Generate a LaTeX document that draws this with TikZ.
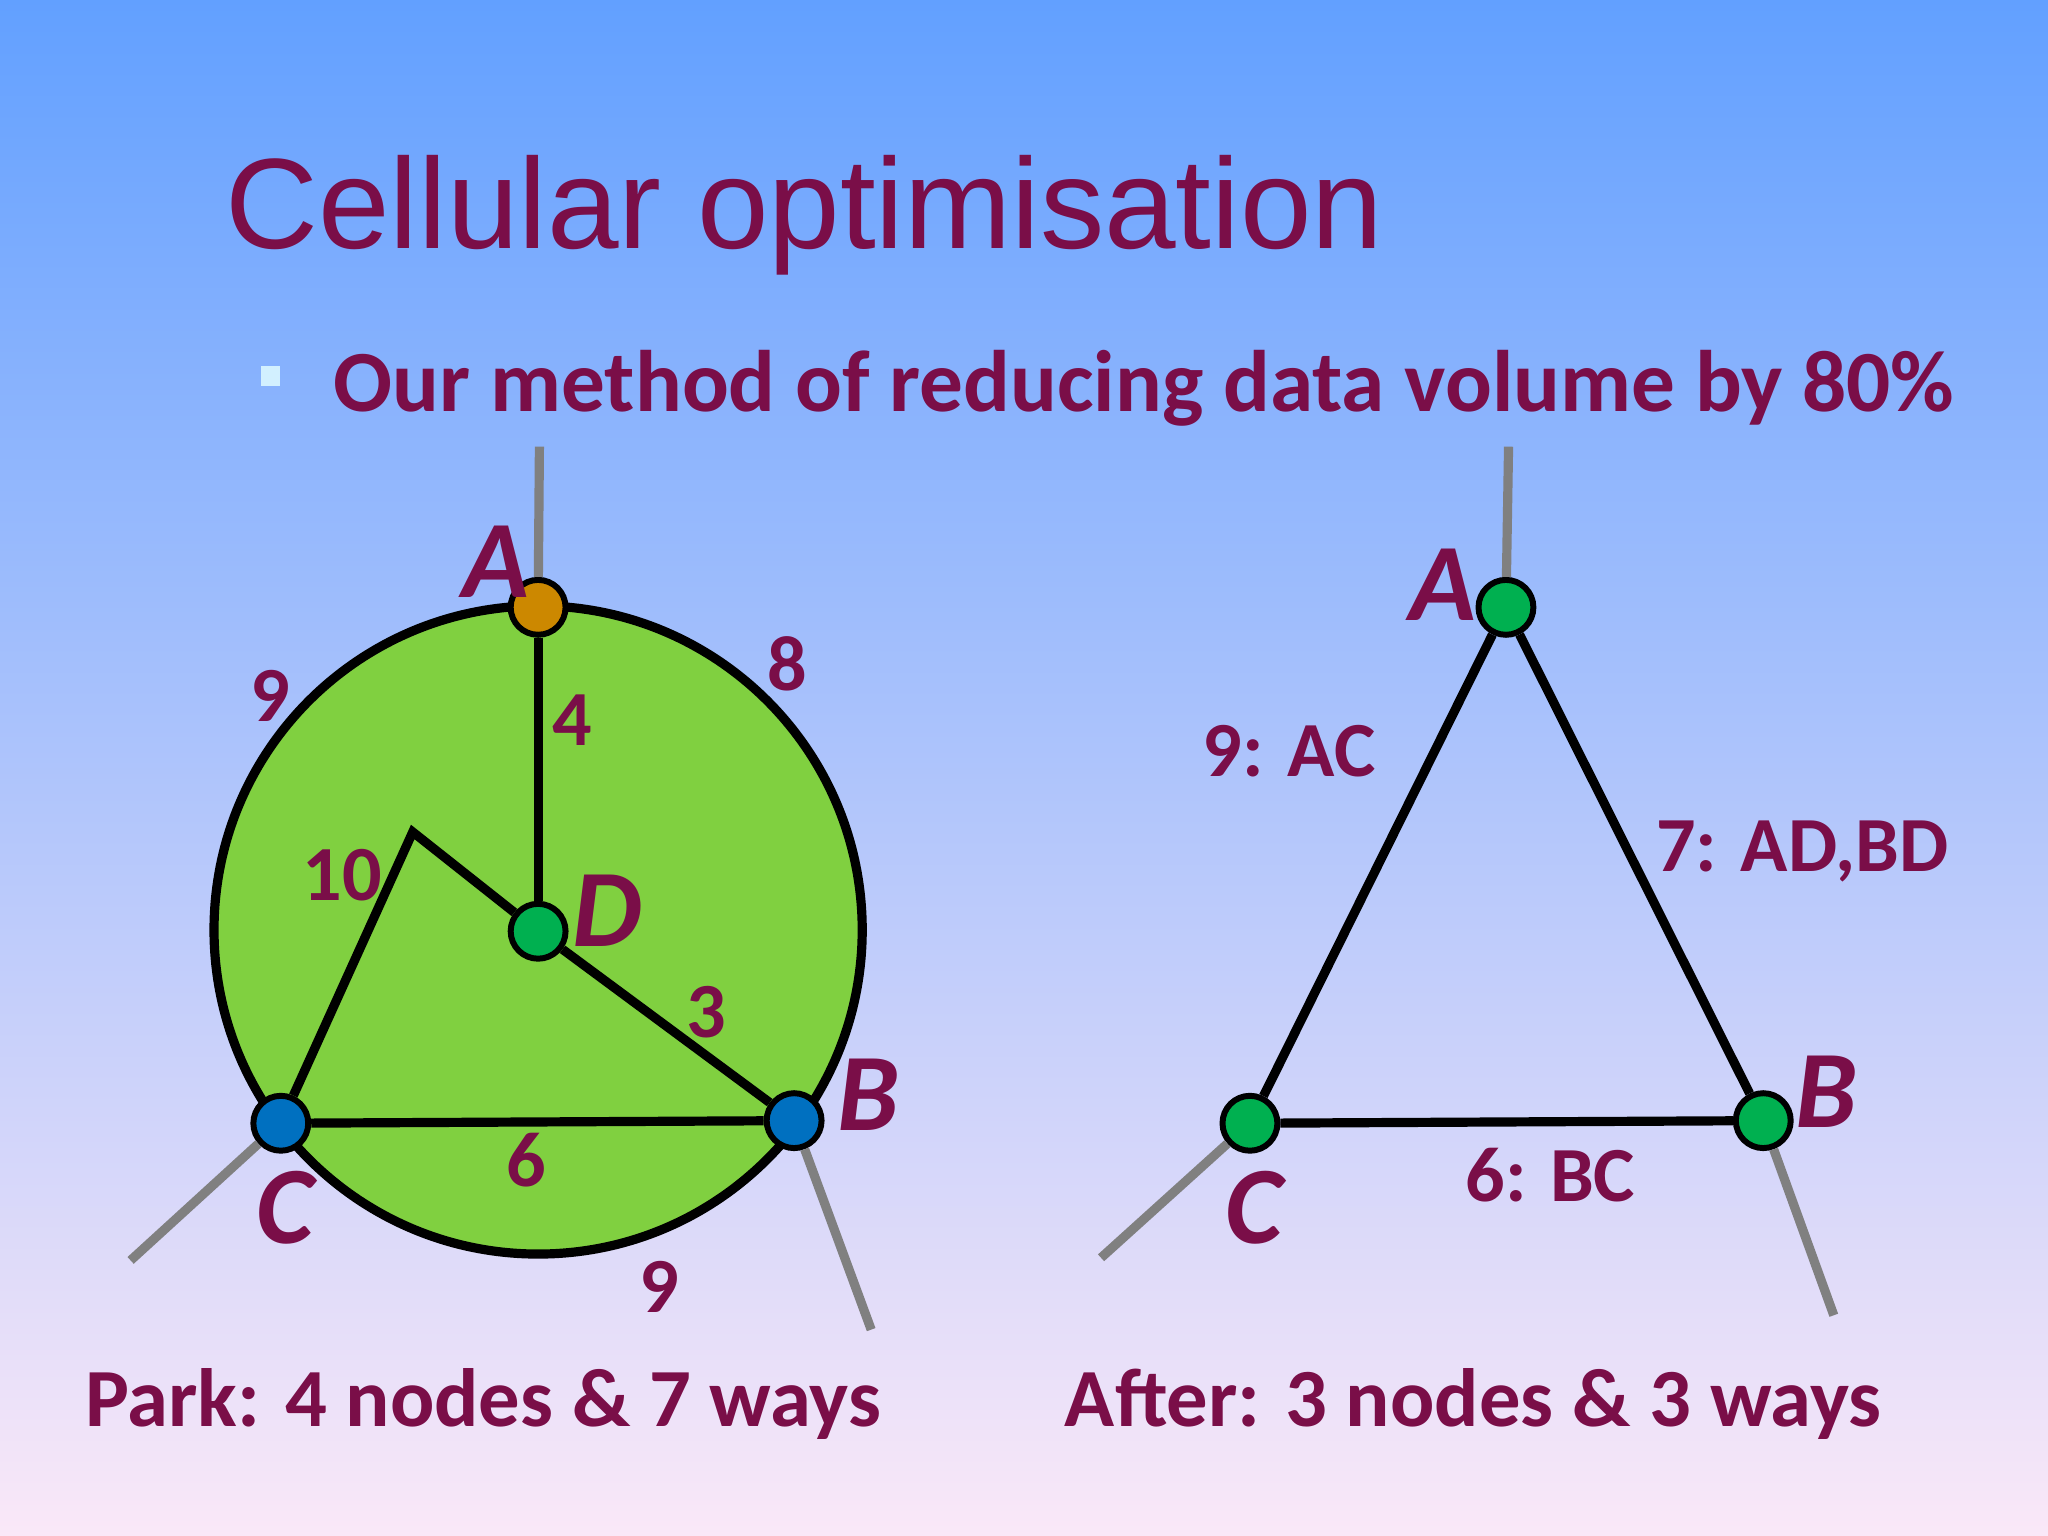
\documentclass[tikz,border=0pt]{standalone}
\usepackage{fontspec}
\setmainfont{Carlito}
\newfontfamily\titlefont{Liberation Sans}
\definecolor{mar}{HTML}{7A0E48}
\definecolor{parkg}{HTML}{80D040}
\definecolor{ng}{HTML}{00B050}
\definecolor{nb}{HTML}{0070C0}
\definecolor{no}{HTML}{CC8800}
\definecolor{gl}{HTML}{808080}
\begin{document}
\begin{tikzpicture}[x=0.01cm,y=-0.01cm,
  vert/.style={circle,draw=black,line width=1.3pt,minimum size=0.42cm,inner sep=0pt},
  edge/.style={line width=2pt,black},
  stub/.style={line width=2pt,gl},
  lab/.style={text=mar,font=\bfseries\itshape\fontsize{24}{24}\selectfont},
  num/.style={text=mar,font=\bfseries\fontsize{17}{17}\selectfont},
  captxt/.style={text=mar,font=\bfseries\fontsize{18}{18}\selectfont}]
\shade[top color={rgb,255:red,98;green,160;blue,255},middle color={rgb,255:red,176;green,196;blue,255},bottom color={rgb,255:red,250;green,232;blue,248}] (0,0) rectangle (1568,1176);
\useasboundingbox (0,0) rectangle (1568,1176);
\node[anchor=base west,text=mar,font=\titlefont\fontsize{28}{28}\selectfont,inner sep=0] (title) at (172,190) {Cellular optimisation};
\node[fill={rgb,255:red,210;green,240;blue,255},minimum size=0.15cm,inner sep=0] (bul) at (207,288) {};
\node[anchor=base west,text=mar,font=\bfseries\fontsize{19}{19}\selectfont,inner sep=0] (sub) at (255,315) {Our method of reducing data volume by 80\%};
% left
\coordinate (At) at (413,342); \coordinate (Ct) at (100,965); \coordinate (Bt) at (667,1018);
\coordinate (K) at (316,637);
\node[circle,draw=black,line width=2pt,fill=parkg,minimum size=4.96cm,inner sep=0] (park) at (412,712) {};
\node[vert,fill=no] (A) at (412,465) {};
\node[vert,fill=ng] (D) at (412,713) {};
\node[vert,fill=nb] (C) at (215,860) {};
\node[vert,fill=nb] (B) at (608,858) {};
\draw[stub] (A) -- (At); \draw[stub] (C) -- (Ct); \draw[stub] (B) -- (Bt);
\draw[edge] (A) -- (D); \draw[edge] (D) -- (K) -- (C); \draw[edge] (D) -- (B); \draw[edge] (C) -- (B);
\node[lab] (lA) at (380,430) {A}; \node[lab] (lD) at (465,697) {D};
\node[lab] (lB) at (665,838) {B}; \node[lab] (lC) at (218,925) {C};
\node[num] (n1) at (207,533) {9}; \node[num] (n2) at (603,508) {8};
\node[num] (n3) at (438,551) {4}; \node[num] (n4) at (262,670) {10};
\node[num] (n5) at (541,775) {3}; \node[num] (n6) at (403,888) {6};
\node[num] (n7) at (505,985) {9};
% right
\coordinate (At2) at (1155,342); \coordinate (Ct2) at (843,963); \coordinate (Bt2) at (1404,1007);
\node[vert,fill=ng] (A2) at (1153,465) {};
\node[vert,fill=ng] (C2) at (957,860) {};
\node[vert,fill=ng] (B2) at (1350,858) {};
\draw[stub] (A2) -- (At2); \draw[stub] (C2) -- (Ct2); \draw[stub] (B2) -- (Bt2);
\draw[edge] (A2) -- (C2) -- (B2) -- (A2);
\node[lab] (lA2) at (1105,448) {A}; \node[lab] (lB2) at (1398,836) {B}; \node[lab] (lC2) at (960,925) {C};
\node[num] (e1) at (987,575) {9: AC}; \node[num] (e2) at (1380,652) {7: AD,BD}; \node[num] (e3) at (1187,900) {6: BC};
\node[captxt] (c1) at (370,1075) {Park: 4 nodes \& 7 ways};
\node[captxt] (c2) at (1128,1075) {After: 3 nodes \& 3 ways};
\end{tikzpicture}
\end{document}
